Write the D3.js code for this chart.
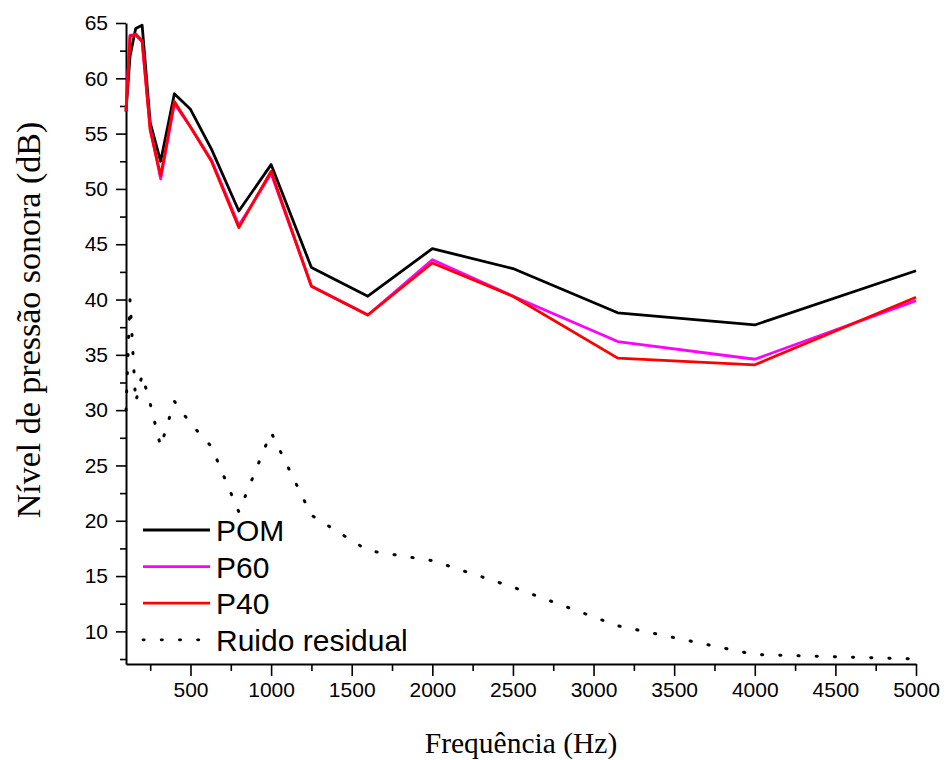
<!DOCTYPE html>
<html>
<head>
<meta charset="utf-8">
<script src="https://cdn.jsdelivr.net/npm/d3@7"></script>
<style>
  body { margin: 0; background: #fff; }
  svg { display: block; }
</style>
</head>
<body>
<svg id="chart" width="946" height="760"></svg>
<script>
/* DATA */
const frequencies = [100, 125, 160, 200, 250, 315, 400, 500, 630, 800, 1000, 1250, 1600, 2000, 2500, 3150, 4000, 5000];
const pomValues   = [57.0, 62.0, 64.5, 64.8, 56.0, 52.5, 58.6, 57.2, 53.6, 48.0, 52.2, 42.9, 40.3, 44.6, 42.8, 38.8, 37.7, 42.6];
const p60Values   = [57.2, 63.9, 63.9, 63.3, 55.5, 50.9, 57.7, 55.6, 52.6, 46.7, 51.4, 41.2, 38.6, 43.6, 40.3, 36.2, 34.6, 39.9];
const p40Values   = [57.0, 63.8, 64.0, 63.4, 55.3, 51.2, 57.9, 55.6, 52.5, 46.5, 51.6, 41.2, 38.6, 43.3, 40.3, 34.7, 34.1, 40.2];
const noiseValues = [30.0, 40.0, 30.7, 33.2, 30.6, 26.7, 30.8, 28.8, 26.7, 20.8, 28.0, 20.5, 17.3, 16.4, 14.0, 10.5, 7.9, 7.5];

const seriesNames = ["POM", "P60", "P40", "Ruido residual"];
const xTickValues = [500, 1000, 1500, 2000, 2500, 3000, 3500, 4000, 4500, 5000];
const yTickValues = [10, 15, 20, 25, 30, 35, 40, 45, 50, 55, 60, 65];

const series = [
  { name: seriesNames[0], values: pomValues,   color: "#000000", dotted: false },
  { name: seriesNames[1], values: p60Values,   color: "#ff00ff", dotted: false },
  { name: seriesNames[2], values: p40Values,   color: "#ff0000", dotted: false },
  { name: seriesNames[3], values: noiseValues, color: "#000000", dotted: true }
];

/* LAYOUT */
const svg = d3.select("#chart");
const plotLeft = 126, plotRight = 916, plotTop = 23, plotBottom = 664;

const x = d3.scaleLinear().domain([100, 5000]).range([plotLeft, plotRight]);
const y = d3.scaleLinear().domain([7.05, 65]).range([plotBottom, plotTop]);

// minor ticks every 250 Hz / 2.5 dB
const xMinor = d3.range(250, 5001, 250).filter(d => d % 500 !== 0);
const yMinor = d3.range(7.5, 65, 5);

/* AXES */
const yAxis = d3.axisLeft(y).tickValues(yTickValues).tickSize(10).tickPadding(8).tickSizeOuter(0);
const xAxis = d3.axisBottom(x).tickValues(xTickValues).tickFormat(d3.format("d"))
  .tickSize(12).tickPadding(6).tickSizeOuter(0);

svg.append("g").attr("transform", `translate(${plotLeft},0)`).call(yAxis);
svg.append("g").attr("transform", `translate(0,${plotBottom})`).call(xAxis);

svg.append("g").attr("transform", `translate(${plotLeft},0)`)
  .call(d3.axisLeft(y).tickValues(yMinor).tickSize(6).tickFormat(""))
  .select(".domain").remove();
svg.append("g").attr("transform", `translate(0,${plotBottom})`)
  .call(d3.axisBottom(x).tickValues(xMinor).tickSize(7).tickFormat(""))
  .select(".domain").remove();

svg.selectAll(".domain").attr("stroke-width", 2);
svg.selectAll(".tick line").attr("stroke-width", 1.6);
svg.selectAll(".tick text")
  .attr("font-family", "Liberation Sans, Arial, sans-serif")
  .attr("font-size", 21)
  .attr("fill", "#000");

/* LINES */
const line = d3.line()
  .x((d, i) => x(frequencies[i]))
  .y(d => y(d));

svg.append("g").selectAll("path")
  .data(series)
  .join("path")
  .attr("d", d => line(d.values))
  .attr("fill", "none")
  .attr("stroke", d => d.color)
  .attr("stroke-width", d => d.dotted ? 3 : 2.8)
  .attr("stroke-linejoin", "round")
  .attr("stroke-linecap", d => d.dotted ? "round" : "butt")
  .attr("stroke-dasharray", d => d.dotted ? "1.2,17" : null);

/* LEGEND */
const legend = svg.append("g").attr("transform", "translate(143,530)");
const rows = legend.selectAll("g")
  .data(series)
  .join("g")
  .attr("transform", (d, i) => `translate(0,${i * 36.6})`);

rows.append("line")
  .attr("x1", 0).attr("x2", 67)
  .attr("stroke", d => d.color)
  .attr("stroke-width", 2.8)
  .attr("stroke-linecap", d => d.dotted ? "round" : "butt")
  .attr("stroke-dasharray", d => d.dotted ? "1.2,17" : null);

rows.append("text")
  .attr("x", 73).attr("y", 11)
  .attr("font-family", "Liberation Sans, Arial, sans-serif")
  .attr("font-size", 30)
  .text(d => d.name);

/* TITLES */
svg.append("text")
  .attr("x", 521).attr("y", 753)
  .attr("text-anchor", "middle")
  .attr("font-family", "Liberation Serif, Times New Roman, serif")
  .attr("font-size", 29.5)
  .text("Frequência (Hz)");

svg.append("text")
  .attr("transform", "translate(40,320) rotate(-90)")
  .attr("text-anchor", "middle")
  .attr("font-family", "Liberation Serif, Times New Roman, serif")
  .attr("font-size", 34)
  .text("Nível de pressão sonora (dB)");
</script>
</body>
</html>
